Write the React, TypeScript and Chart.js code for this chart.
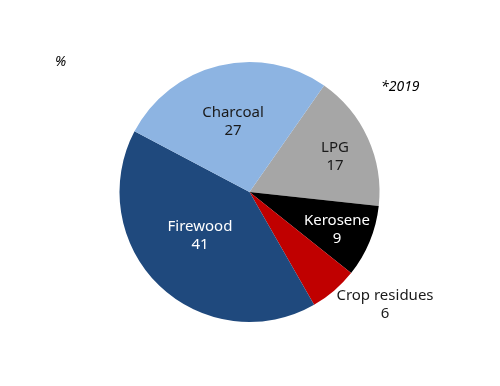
import React, { useEffect, useRef } from "react";
import { Chart, registerables } from "chart.js";

Chart.register(...registerables);

const categories = ["LPG", "Kerosene", "Crop residues", "Firewood", "Charcoal"];
const shares = [17, 9, 6, 41, 27];
const sliceColors = ["#A6A6A6", "#000000", "#C00000", "#1F497D", "#8DB4E2"];
const labelColors = ["#1a1a1a", "#ffffff", "#1a1a1a", "#ffffff", "#1a1a1a"];
// label block centre, relative to pie centre, in units of radius
const labelOffsets = [
  [0.658, -0.269],
  [0.673, 0.292],
  [1.042, 0.869],
  [-0.381, 0.335],
  [-0.127, -0.542],
];

const FONT = "'Noto Sans', sans-serif";

const labelPlugin = {
  id: "sliceLabels",
  afterDatasetsDraw(chart: any) {
    const meta = chart.getDatasetMeta(0);
    const ctx = chart.ctx;
    ctx.save();
    ctx.font = `15px ${FONT}`;
    ctx.textAlign = "center";
    ctx.textBaseline = "middle";
    meta.data.forEach((arc: any, i: number) => {
      const { x, y, outerRadius } = arc.getProps(["x", "y", "outerRadius"], true);
      const cx = x + labelOffsets[i][0] * outerRadius;
      const cy = y + labelOffsets[i][1] * outerRadius;
      ctx.fillStyle = labelColors[i];
      ctx.fillText(categories[i], cx, cy - 9);
      ctx.fillText(String(shares[i]), cx, cy + 9);
    });
    ctx.font = `italic 14px ${FONT}`;
    ctx.fillStyle = "#000";
    ctx.textAlign = "left";
    ctx.fillText("%", 55, 62);
    ctx.fillText("*2019", 381, 87);
    ctx.restore();
  },
};

export default function App() {
  const ref = useRef<HTMLCanvasElement>(null);
  useEffect(() => {
    if (!ref.current) return;
    const chart = new Chart(ref.current, {
      type: "pie",
      data: {
        labels: categories,
        datasets: [
          {
            data: shares,
            backgroundColor: sliceColors,
            borderWidth: 0,
          },
        ],
      },
      options: {
        animation: false,
        responsive: false,
        rotation: 35,
        layout: { padding: { left: 119.5, right: 120.5, top: 62, bottom: 64 } },
        plugins: {
          legend: { display: false },
          tooltip: { enabled: false },
        },
      },
      plugins: [labelPlugin],
    });
    return () => chart.destroy();
  }, []);
  return (
    <div style={{ position: "fixed", left: 0, top: 0, width: 500, height: 386, background: "#fff" }}>
      <canvas ref={ref} width={500} height={386} style={{ display: "block" }} />
    </div>
  );
}
